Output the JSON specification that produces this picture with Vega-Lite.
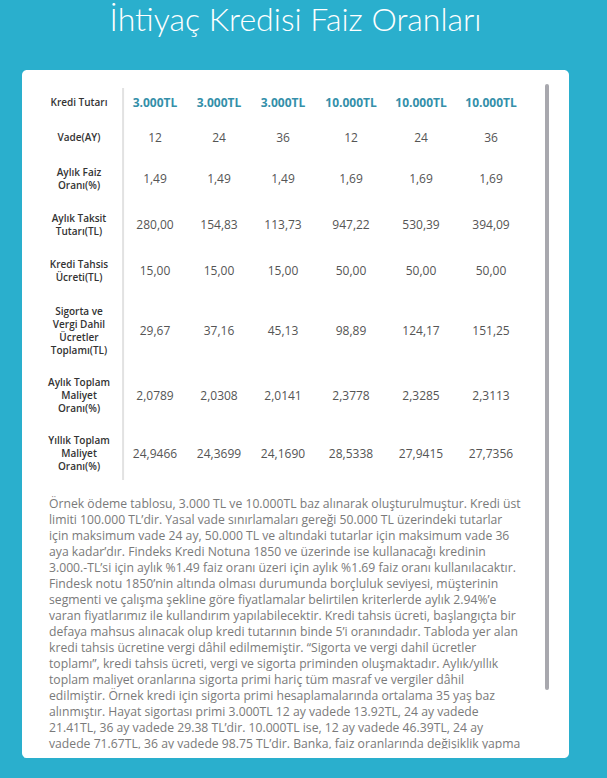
{
  "$schema": "https://vega.github.io/schema/vega-lite/v6.json",
  "width": 607,
  "height": 778,
  "autosize": {"type": "fit", "contains": "padding"},
  "padding": {"left": 22, "right": 38, "top": 5, "bottom": 20},
  "background": "#2aafcd",
  "title": {
    "text": "İhtiyaç Kredisi Faiz Oranları",
    "color": "white",
    "font": "Lato",
    "fontWeight": 300,
    "fontSize": 32,
    "anchor": "middle",
    "offset": 32
  },
  "config": {
    "view": {"fill": "white", "stroke": null, "cornerRadius": 5}
  },
  "datasets": {
    "labels": [
      {"row": 1, "col": 0, "text": "Kredi Tutarı"},
      {"row": 2, "col": 0, "text": "Vade(AY)"},
      {"row": 3, "col": 0, "text": "Aylık Faiz\nOranı(%)"},
      {"row": 4, "col": 0, "text": "Aylık Taksit\nTutarı(TL)"},
      {"row": 5, "col": 0, "text": "Kredi Tahsis\nÜcreti(TL)"},
      {"row": 6, "col": 0, "text": "Sigorta ve\nVergi Dahil\nÜcretler\nToplamı(TL)"},
      {"row": 7, "col": 0, "text": "Aylık Toplam\nMaliyet\nOranı(%)"},
      {"row": 8, "col": 0, "text": "Yıllık Toplam\nMaliyet\nOranı(%)"}
    ],
    "header": [
      {"row": 1, "col": 1, "text": "3.000TL"},
      {"row": 1, "col": 2, "text": "3.000TL"},
      {"row": 1, "col": 3, "text": "3.000TL"},
      {"row": 1, "col": 4, "text": "10.000TL"},
      {"row": 1, "col": 5, "text": "10.000TL"},
      {"row": 1, "col": 6, "text": "10.000TL"}
    ],
    "cells": [
      {"row": 2, "col": 1, "text": "12"},
      {"row": 2, "col": 2, "text": "24"},
      {"row": 2, "col": 3, "text": "36"},
      {"row": 2, "col": 4, "text": "12"},
      {"row": 2, "col": 5, "text": "24"},
      {"row": 2, "col": 6, "text": "36"},
      {"row": 3, "col": 1, "text": "1,49"},
      {"row": 3, "col": 2, "text": "1,49"},
      {"row": 3, "col": 3, "text": "1,49"},
      {"row": 3, "col": 4, "text": "1,69"},
      {"row": 3, "col": 5, "text": "1,69"},
      {"row": 3, "col": 6, "text": "1,69"},
      {"row": 4, "col": 1, "text": "280,00"},
      {"row": 4, "col": 2, "text": "154,83"},
      {"row": 4, "col": 3, "text": "113,73"},
      {"row": 4, "col": 4, "text": "947,22"},
      {"row": 4, "col": 5, "text": "530,39"},
      {"row": 4, "col": 6, "text": "394,09"},
      {"row": 5, "col": 1, "text": "15,00"},
      {"row": 5, "col": 2, "text": "15,00"},
      {"row": 5, "col": 3, "text": "15,00"},
      {"row": 5, "col": 4, "text": "50,00"},
      {"row": 5, "col": 5, "text": "50,00"},
      {"row": 5, "col": 6, "text": "50,00"},
      {"row": 6, "col": 1, "text": "29,67"},
      {"row": 6, "col": 2, "text": "37,16"},
      {"row": 6, "col": 3, "text": "45,13"},
      {"row": 6, "col": 4, "text": "98,89"},
      {"row": 6, "col": 5, "text": "124,17"},
      {"row": 6, "col": 6, "text": "151,25"},
      {"row": 7, "col": 1, "text": "2,0789"},
      {"row": 7, "col": 2, "text": "2,0308"},
      {"row": 7, "col": 3, "text": "2,0141"},
      {"row": 7, "col": 4, "text": "2,3778"},
      {"row": 7, "col": 5, "text": "2,3285"},
      {"row": 7, "col": 6, "text": "2,3113"},
      {"row": 8, "col": 1, "text": "24,9466"},
      {"row": 8, "col": 2, "text": "24,3699"},
      {"row": 8, "col": 3, "text": "24,1690"},
      {"row": 8, "col": 4, "text": "28,5338"},
      {"row": 8, "col": 5, "text": "27,9415"},
      {"row": 8, "col": 6, "text": "27,7356"}
    ],
    "paragraph": [
      {"line": 1, "text": "Örnek ödeme tablosu, 3.000 TL ve 10.000TL baz alınarak oluşturulmuştur. Kredi üst"},
      {"line": 2, "text": "limiti 100.000 TL’dir. Yasal vade sınırlamaları gereği 50.000 TL üzerindeki tutarlar"},
      {"line": 3, "text": "için maksimum vade 24 ay, 50.000 TL ve altındaki tutarlar için maksimum vade 36"},
      {"line": 4, "text": "aya kadar’dır. Findeks Kredi Notuna 1850 ve üzerinde ise kullanacağı kredinin"},
      {"line": 5, "text": "3.000.-TL’si için aylık %1.49 faiz oranı üzeri için aylık %1.69 faiz oranı kullanılacaktır."},
      {"line": 6, "text": "Findesk notu 1850’nin altında olması durumunda borçluluk seviyesi, müşterinin"},
      {"line": 7, "text": "segmenti ve çalışma şekline göre fiyatlamalar belirtilen kriterlerde aylık 2.94%’e"},
      {"line": 8, "text": "varan fiyatlarımız ile kullandırım yapılabilecektir. Kredi tahsis ücreti, başlangıçta bir"},
      {"line": 9, "text": "defaya mahsus alınacak olup kredi tutarının binde 5’i oranındadır. Tabloda yer alan"},
      {"line": 10, "text": "kredi tahsis ücretine vergi dâhil edilmemiştir. “Sigorta ve vergi dahil ücretler"},
      {"line": 11, "text": "toplamı”, kredi tahsis ücreti, vergi ve sigorta priminden oluşmaktadır. Aylık/yıllık"},
      {"line": 12, "text": "toplam maliyet oranlarına sigorta primi hariç tüm masraf ve vergiler dâhil"},
      {"line": 13, "text": "edilmiştir. Örnek kredi için sigorta primi hesaplamalarında ortalama 35 yaş baz"},
      {"line": 14, "text": "alınmıştır. Hayat sigortası primi 3.000TL 12 ay vadede 13.92TL, 24 ay vadede"},
      {"line": 15, "text": "21.41TL, 36 ay vadede 29.38 TL’dir. 10.000TL ise, 12 ay vadede 46.39TL, 24 ay"},
      {"line": 16, "text": "vadede 71.67TL, 36 ay vadede 98.75 TL’dir. Banka, faiz oranlarında değişiklik yapma"}
    ]
  },
  "layer": [
    {
      "data": {"values": [{}]},
      "mark": {"type": "rule", "color": "#e2e2e2", "strokeWidth": 2},
      "encoding": {
        "x": {"datum": 0.58, "type": "quantitative", "scale": {"domain": [0, 1, 2, 3, 4, 5, 6], "range": [57, 133, 197, 261, 329, 399, 469]}, "axis": null},
        "y": {"datum": 0.57, "type": "quantitative", "scale": {"domain": [1, 2, 3, 4, 5, 6, 7, 8], "range": [33, 68, 109, 155, 201, 261, 326, 384]}, "axis": null},
        "y2": {"datum": 8.45}
      }
    },
    {
      "data": {"name": "labels"},
      "transform": [{"filter": {"field": "row", "oneOf": [1, 2]}}],
      "mark": {"type": "text", "font": "Open Sans", "fontWeight": 600, "fontSize": 10, "color": "#333333", "lineBreak": "\n", "lineHeight": 13, "align": "center", "baseline": "middle"},
      "encoding": {
        "x": {"field": "col", "type": "quantitative", "scale": {"domain": [0, 1, 2, 3, 4, 5, 6], "range": [57, 133, 197, 261, 329, 399, 469]}, "axis": null},
        "y": {"field": "row", "type": "quantitative", "scale": {"domain": [1, 2, 3, 4, 5, 6, 7, 8], "range": [33, 68, 109, 155, 201, 261, 326, 384]}, "axis": null},
        "text": {"field": "text"}
      }
    },
    {
      "data": {"name": "labels"},
      "transform": [{"filter": {"field": "row", "oneOf": [3, 4, 5]}}],
      "mark": {"type": "text", "font": "Open Sans", "fontWeight": 600, "fontSize": 10, "color": "#333333", "lineBreak": "\n", "lineHeight": 13, "align": "center", "baseline": "middle", "dy": -6.5},
      "encoding": {
        "x": {"field": "col", "type": "quantitative", "scale": {"domain": [0, 1, 2, 3, 4, 5, 6], "range": [57, 133, 197, 261, 329, 399, 469]}, "axis": null},
        "y": {"field": "row", "type": "quantitative", "scale": {"domain": [1, 2, 3, 4, 5, 6, 7, 8], "range": [33, 68, 109, 155, 201, 261, 326, 384]}, "axis": null},
        "text": {"field": "text"}
      }
    },
    {
      "data": {"name": "labels"},
      "transform": [{"filter": {"field": "row", "oneOf": [7, 8]}}],
      "mark": {"type": "text", "font": "Open Sans", "fontWeight": 600, "fontSize": 10, "color": "#333333", "lineBreak": "\n", "lineHeight": 13, "align": "center", "baseline": "middle", "dy": -13},
      "encoding": {
        "x": {"field": "col", "type": "quantitative", "scale": {"domain": [0, 1, 2, 3, 4, 5, 6], "range": [57, 133, 197, 261, 329, 399, 469]}, "axis": null},
        "y": {"field": "row", "type": "quantitative", "scale": {"domain": [1, 2, 3, 4, 5, 6, 7, 8], "range": [33, 68, 109, 155, 201, 261, 326, 384]}, "axis": null},
        "text": {"field": "text"}
      }
    },
    {
      "data": {"name": "labels"},
      "transform": [{"filter": {"field": "row", "oneOf": [6]}}],
      "mark": {"type": "text", "font": "Open Sans", "fontWeight": 600, "fontSize": 10, "color": "#333333", "lineBreak": "\n", "lineHeight": 13, "align": "center", "baseline": "middle", "dy": -19.5},
      "encoding": {
        "x": {"field": "col", "type": "quantitative", "scale": {"domain": [0, 1, 2, 3, 4, 5, 6], "range": [57, 133, 197, 261, 329, 399, 469]}, "axis": null},
        "y": {"field": "row", "type": "quantitative", "scale": {"domain": [1, 2, 3, 4, 5, 6, 7, 8], "range": [33, 68, 109, 155, 201, 261, 326, 384]}, "axis": null},
        "text": {"field": "text"}
      }
    },
    {
      "data": {"name": "header"},
      "mark": {"type": "text", "font": "Open Sans", "fontWeight": 700, "fontSize": 12, "color": "#348fa9", "align": "center", "baseline": "middle"},
      "encoding": {
        "x": {"field": "col", "type": "quantitative", "scale": {"domain": [0, 1, 2, 3, 4, 5, 6], "range": [57, 133, 197, 261, 329, 399, 469]}, "axis": null},
        "y": {"field": "row", "type": "quantitative", "scale": {"domain": [1, 2, 3, 4, 5, 6, 7, 8], "range": [33, 68, 109, 155, 201, 261, 326, 384]}, "axis": null},
        "text": {"field": "text"}
      }
    },
    {
      "data": {"name": "cells"},
      "mark": {"type": "text", "font": "Open Sans", "fontWeight": 400, "fontSize": 12, "color": "#555555", "align": "center", "baseline": "middle"},
      "encoding": {
        "x": {"field": "col", "type": "quantitative", "scale": {"domain": [0, 1, 2, 3, 4, 5, 6], "range": [57, 133, 197, 261, 329, 399, 469]}, "axis": null},
        "y": {"field": "row", "type": "quantitative", "scale": {"domain": [1, 2, 3, 4, 5, 6, 7, 8], "range": [33, 68, 109, 155, 201, 261, 326, 384]}, "axis": null},
        "text": {"field": "text"}
      }
    },
    {
      "data": {"name": "paragraph"},
      "mark": {"type": "text", "font": "Open Sans", "fontSize": 12.2, "color": "#7a7a7a", "align": "left", "baseline": "middle"},
      "encoding": {
        "x": {"datum": 0, "type": "quantitative", "scale": {"domain": [0, 1], "range": [27, 525]}, "axis": null},
        "y": {"field": "line", "type": "quantitative", "scale": {"domain": [1, 16], "range": [434, 674]}, "axis": null},
        "text": {"field": "text"}
      }
    },
    {
      "data": {"values": [{}]},
      "mark": {"type": "rect", "color": "white"},
      "encoding": {
        "x": {"datum": -0.05, "type": "quantitative", "scale": {"domain": [0, 1], "range": [27, 525]}, "axis": null},
        "x2": {"datum": 0.99},
        "y": {"datum": 16.3, "type": "quantitative", "scale": {"domain": [1, 16], "range": [434, 674]}, "axis": null},
        "y2": {"datum": 16.85}
      }
    },
    {
      "data": {"values": [{}]},
      "mark": {"type": "rule", "color": "#a8a8ae", "strokeWidth": 4, "strokeCap": "round"},
      "encoding": {
        "x": {"datum": 1, "type": "quantitative", "scale": {"domain": [0, 1], "range": [0, 525]}, "axis": null},
        "y": {"datum": 0, "type": "quantitative", "scale": {"domain": [0, 1], "range": [16, 674]}, "axis": null},
        "y2": {"datum": 0.915}
      }
    }
  ],
  "resolve": {"scale": {"x": "independent", "y": "independent"}}
}
